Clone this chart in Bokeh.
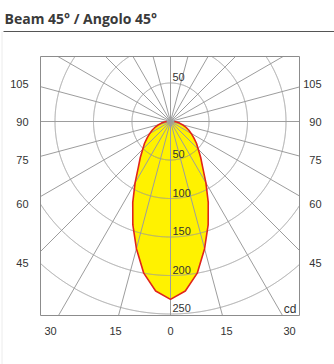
import numpy as np
from bokeh.plotting import figure
from bokeh.models import Range1d
from bokeh.core.properties import value
from bokeh.embed import file_html
from bokeh.resources import INLINE

# ---------------- data ----------------
title_text = "Beam 45° / Angolo 45°"
unit_label = "cd"
# luminous intensity (cd) vs angle from the downward axis (deg), symmetric curve
curve_angles = [0, 5, 10, 15, 20, 25, 30, 35, 40, 45, 50, 55, 60, 65, 70, 75, 80, 85, 90]
curve_cd = [231, 221, 200, 171, 143, 116, 92, 73, 61, 51, 44, 37, 31, 26, 21, 16, 12, 8, 5]
# polar grid
ring_values = [50, 100, 150, 200, 250]
spoke_angles = list(range(0, 360, 15))
# angle tick labels
side_labels = ["105", "90", "75", "60", "45"]
bottom_labels = ["30", "15", "0", "15", "30"]

# ---------------- layout (pixels) ----------------
W, H = 334, 364
CX, CY = 170, 121            # pole position in window pixels
K = 38.5 / 50.0              # pixels per cd
BOX_L, BOX_R, BOX_T, BOX_B = 40, 299, 56, 315
side_label_py = [83, 121, 159, 203, 262]
left_label_px, right_label_px = 28, 321
bottom_label_px = [50, 115, 170, 226, 289]
bottom_label_py = 330


def X(px):
    return (px - CX) / K


def Y(py):
    return (CY - py) / K


p = figure(width=W, height=H, x_range=Range1d(X(0), X(W)), y_range=Range1d(Y(H), Y(0)),
           min_border=0, toolbar_location=None, output_backend="svg")
p.axis.visible = False
p.grid.visible = False
p.outline_line_color = None
p.background_fill_color = "white"
p.border_fill_color = "white"

L, R, T, B = X(BOX_L), X(BOX_R), Y(BOX_T), Y(BOX_B)

# ---------------- curve fill ----------------
a = np.radians(np.array(curve_angles, dtype=float))
r = np.array(curve_cd, dtype=float)
xs_r = r * np.sin(a)
ys_r = -r * np.cos(a)
cx = np.concatenate([xs_r[::-1], -xs_r[1:]])
cy = np.concatenate([ys_r[::-1], ys_r[1:]])
p.patch(list(cx), list(cy), fill_color="#FFF200", line_color=None)

GRID = "#9d9d9d"


def inside(x, y):
    return (x >= L) & (x <= R) & (y <= T) & (y >= B)


# rings clipped to box
ring_xs, ring_ys = [], []
th = np.radians(np.arange(0, 360.05, 0.1))
for rv in ring_values:
    x = rv * np.sin(th)
    y = -rv * np.cos(th)
    m = inside(x, y)
    seg_x, seg_y = [], []
    for xi, yi, mi in zip(x, y, m):
        if mi:
            seg_x.append(xi)
            seg_y.append(yi)
        elif seg_x:
            ring_xs.append(seg_x)
            ring_ys.append(seg_y)
            seg_x, seg_y = [], []
    if seg_x:
        ring_xs.append(seg_x)
        ring_ys.append(seg_y)
p.multi_line(ring_xs, ring_ys, line_color=GRID, line_width=1)

# spokes to box edge
sp_xs, sp_ys = [], []
for ang in spoke_angles:
    t = np.radians(ang)
    dx, dy = np.sin(t), -np.cos(t)
    cands = []
    if dx > 1e-9:
        cands.append(R / dx)
    if dx < -1e-9:
        cands.append(L / dx)
    if dy > 1e-9:
        cands.append(T / dy)
    if dy < -1e-9:
        cands.append(B / dy)
    s = min(cands)
    sp_xs.append([0, s * dx])
    sp_ys.append([0, s * dy])
p.multi_line(sp_xs, sp_ys, line_color=GRID, line_width=1)

# box
p.quad(left=[L], right=[R], top=[T], bottom=[B], fill_color=None, line_color="#8c8c8c", line_width=1)

# curve outline
p.line(list(cx), list(cy), line_color="#E0241B", line_width=1.6)

FONT = value("Liberation Sans")
TXT = "#333333"

# ring labels (down) and top 50
lab_x = [X(172)] * (len(ring_values) + 1)
lab_y = [-v + 6 / K for v in ring_values] + [ring_values[0] + 6 / K]
lab_t = [str(v) for v in ring_values] + [str(ring_values[0])]
p.text(lab_x, lab_y, text=lab_t, text_font=FONT, text_font_size="11px", text_color=TXT,
       text_align="left", text_baseline="middle")

# cd unit
p.text([X(296)], [Y(308)], text=[unit_label], text_font=FONT, text_font_size="12px", text_color=TXT,
       text_align="right", text_baseline="middle")

# side labels
sy = [Y(v) for v in side_label_py]
p.text([X(left_label_px)] * len(sy), sy, text=side_labels, text_font=FONT, text_font_size="11px",
       text_color=TXT, text_align="right", text_baseline="middle")
p.text([X(right_label_px)] * len(sy), sy, text=side_labels, text_font=FONT, text_font_size="11px",
       text_color=TXT, text_align="right", text_baseline="middle")

# bottom labels
p.text([X(v) for v in bottom_label_px], [Y(bottom_label_py)] * len(bottom_labels), text=bottom_labels,
       text_font=FONT, text_font_size="11px", text_color=TXT, text_align="center", text_baseline="middle")

# title, separator and faint page edge
p.text([X(4)], [Y(18)], text=[title_text], text_font=value("Open Sans"), text_font_style="bold",
       text_font_size="14px", text_color="#3a3a3a", text_align="left", text_baseline="alphabetic")
p.line([X(3), X(334)], [Y(31), Y(31)], line_color="#555555", line_width=1)
p.line([X(1.5), X(1.5)], [Y(31), Y(364)], line_color="#ececec", line_width=1)

open("out.html", "w").write(file_html(p, INLINE))
